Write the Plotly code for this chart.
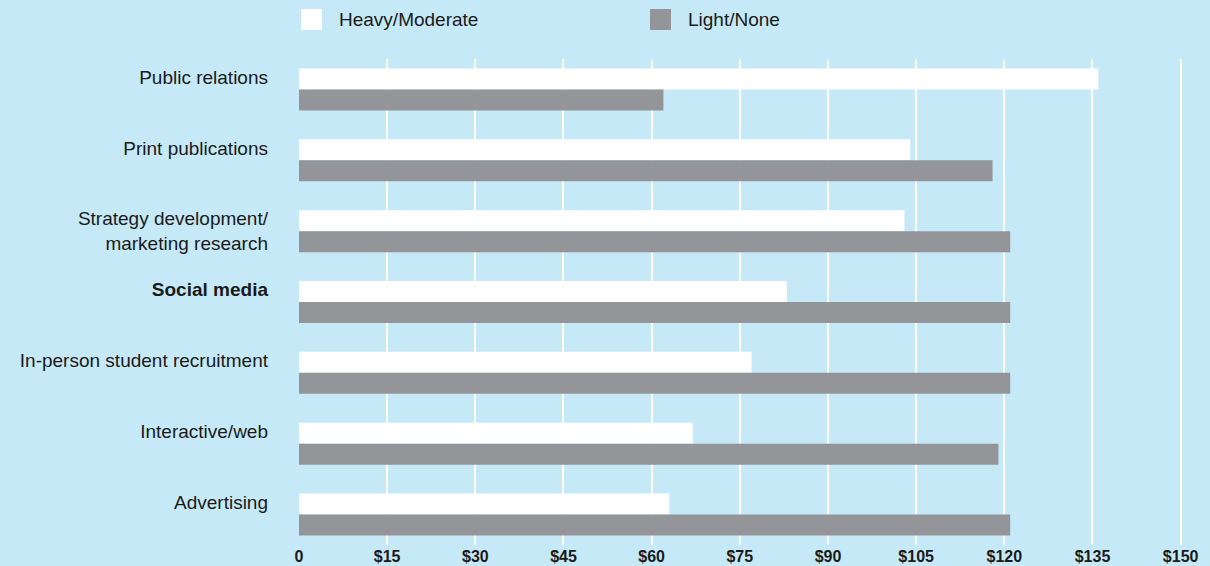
import plotly.graph_objects as go

categories = [
    "Public relations",
    "Print publications",
    "Strategy development/<br>marketing research",
    "<b>Social media</b>",
    "In-person student recruitment",
    "Interactive/web",
    "Advertising",
]
heavy_moderate = [136, 104, 103, 83, 77, 67, 63]
light_none = [62, 118, 121, 121, 121, 119, 121]
x_ticks = [0, 15, 30, 45, 60, 75, 90, 105, 120, 135, 150]
x_tick_labels = ["0"] + ["$" + str(v) for v in x_ticks[1:]]

series_names = ["Heavy/Moderate", "Light/None"]
series_colors = ["#ffffff", "#939598"]

BG = "#c6e9f8"
FONT = "Liberation Sans, Arial, sans-serif"
TXT = "#1a1a1a"

# single-line labels sit on the upper bar, as in the original
def label_text(c):
    return c if "<br>" in c else c + "<br>&nbsp;"

ids = list(range(len(categories)))

fig = go.Figure()
for name, vals, col in zip(series_names, [heavy_moderate, light_none], series_colors):
    fig.add_trace(go.Bar(
        y=ids, x=vals, name=name, orientation="h",
        marker=dict(color=col, line=dict(width=0)),
        showlegend=False,
    ))

fig.update_layout(
    width=1210, height=566,
    paper_bgcolor=BG, plot_bgcolor=BG,
    margin=dict(l=299, r=27, t=59, b=21),
    barmode="group", bargap=0.407, bargroupgap=0,
    font=dict(family=FONT, color=TXT, size=19),
)
fig.update_xaxes(
    range=[0, 150.4], tickvals=x_ticks, ticktext=x_tick_labels,
    showgrid=True, gridcolor="#ffffff", gridwidth=2,
    zeroline=False, showline=False, ticks="", automargin=False,
    tickfont=dict(family=FONT, size=16, color=TXT, weight="bold"),
)
fig.update_yaxes(
    tickmode="array", tickvals=ids, ticktext=[label_text(c) for c in categories],
    range=[len(categories) - 0.57, -0.43],
    showgrid=False, zeroline=False, showline=False, ticks="", automargin=False,
    ticklabelstandoff=30,
    tickfont=dict(family=FONT, size=19, color=TXT),
)

# legend drawn as swatches + text
PW = 1210 - 299 - 27
legend_px = [2, 351]
for px, name, col in zip(legend_px, series_names, series_colors):
    fig.add_shape(type="rect", xref="paper", yref="paper",
                  x0=px / PW, x1=(px + 21) / PW, y0=1 + 29 / 486, y1=1 + 50 / 486,
                  fillcolor=col, line=dict(width=0))
    fig.add_annotation(xref="paper", yref="paper", x=(px + 36) / PW, y=1 + 39.5 / 486,
                       text=name, showarrow=False, xanchor="left", yanchor="middle",
                       font=dict(family=FONT, size=19, color=TXT))

fig.write_html("out.html", config={"displayModeBar": False},
               post_script="document.body.style.margin='0';document.body.style.background='%s';" % BG)
